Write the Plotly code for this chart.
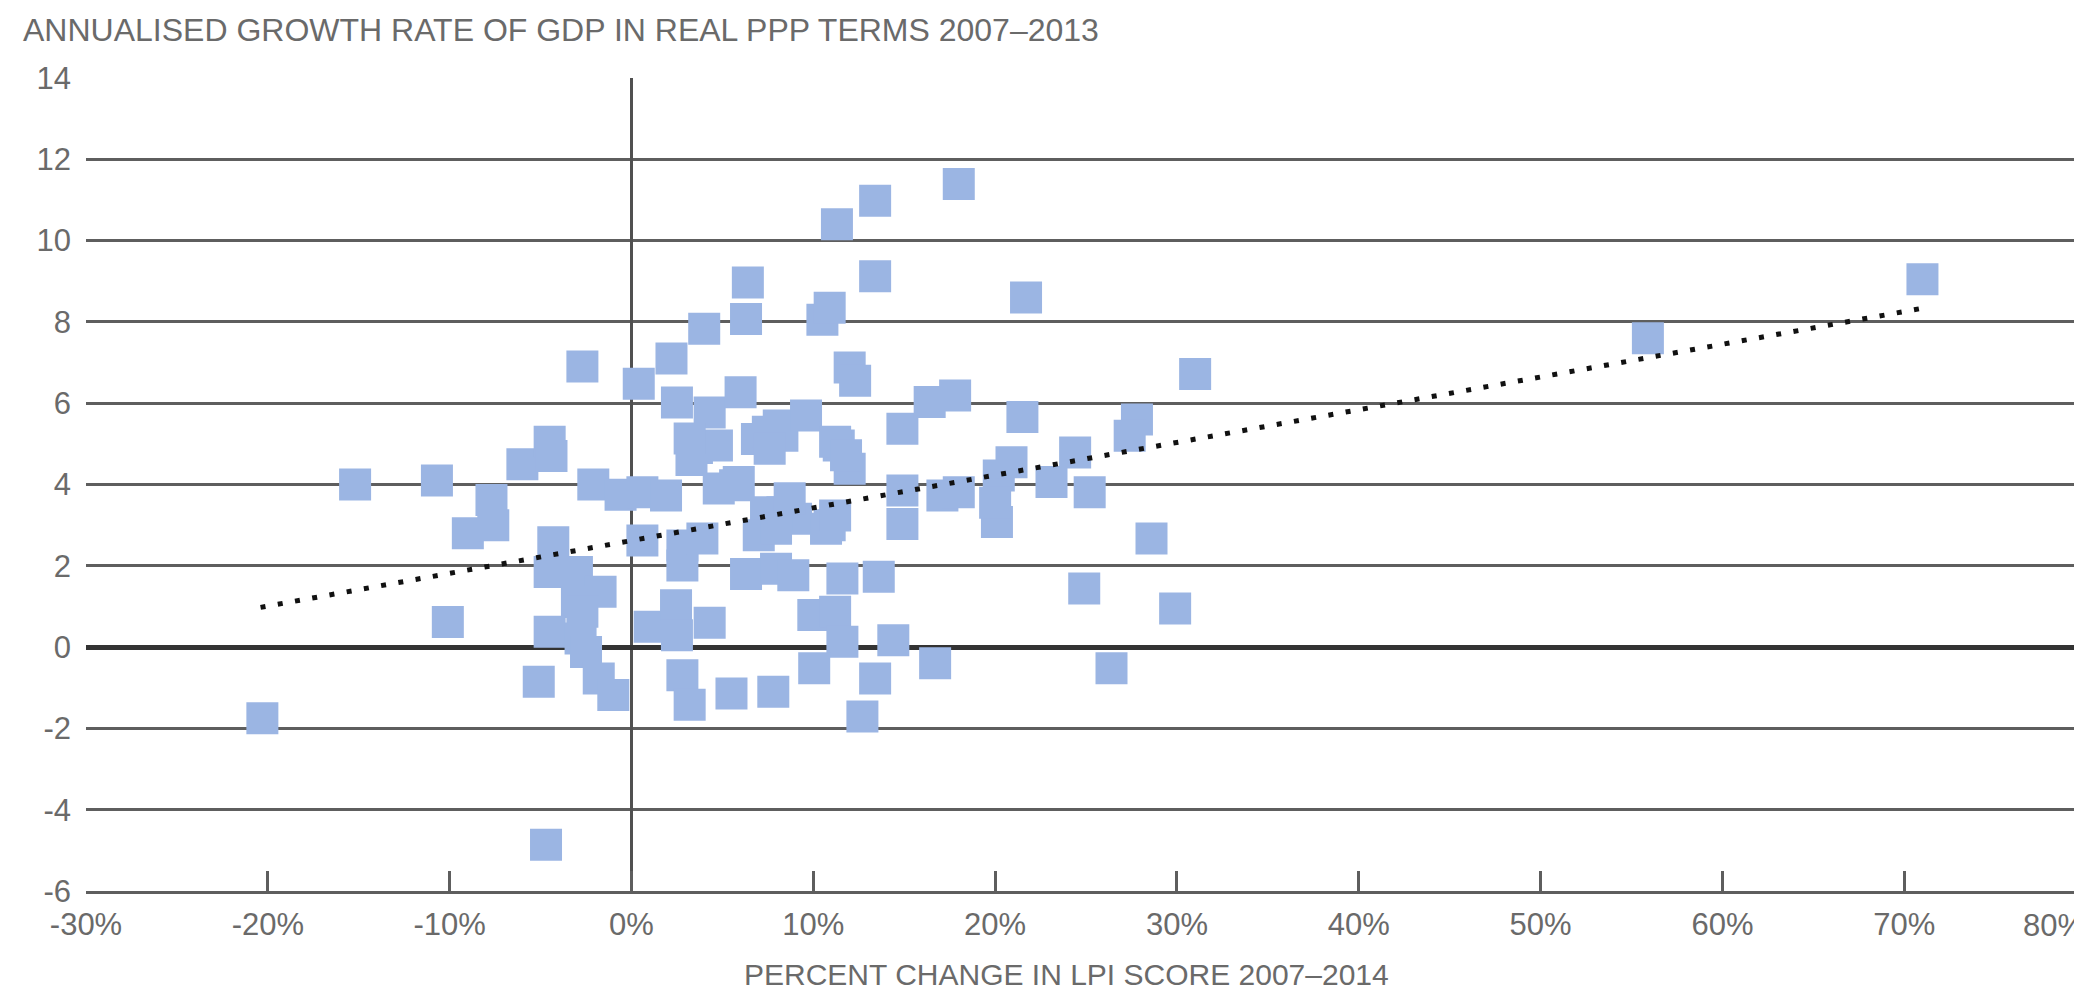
import plotly.graph_objects as go

# ---- data ----
lpi_change_pct = [
    -20.3, -15.2, -10.7, -10.1, -9.0, -7.6, -7.7, -6.0, -4.5, -4.4,
    -4.7, -5.1, -2.7, -2.1, 0.4, 2.2, 4.0, 6.4, 6.3, 11.3,
    13.4, 18.0, 13.4, 10.5, 10.9, 21.7, 12.0, 12.3, 31.0, 55.9,
    71.0, 27.8, 27.4, 28.6, 24.9, 29.9, 26.4, 12.7,
    -4.3, -4.5, -3.0, -1.7, -3.0, -4.5, -2.7, -2.8, -2.5, -1.8, -1.0, -0.6,
    0.6, 1.9, 3.3, 3.6, 4.7, 5.7, 6.9, 4.8, 2.5, 4.3,
    3.2, 6.0, 7.5, 8.3, 8.1, 9.6, 7.6, 8.3, 7.4, 9.05,
    10.9, 7.0, 7.95, 10.7, 11.2, 8.7, 11.4, 12.0, 11.2, 11.8,
    0.6, 2.8, 2.8, 3.9, 6.3, 7.95, 8.9, 1.0, 2.45, 4.3,
    2.5, 10.0, 11.2, 11.6, 11.6, 13.6, 14.4, 16.7, 10.05, 13.4,
    2.8, 3.2, 5.5, 7.8,
    14.9, 16.4, 17.8, 14.9, 14.9, 17.1, 18.0, 20.2, 20.1, 20.0,
    21.5, 20.9, 23.1, 25.2, 24.4, 5.9,
]
gdp_growth = [
    -1.75, 4.0, 4.1, 0.62, 2.8, 3.0, 3.62, 4.5, 5.05, 4.7,
    -4.86, -0.85, 6.9, 4.0, 6.48, 7.1, 7.83, 8.97, 8.07, 10.4,
    10.98, 11.39, 9.12, 8.05, 8.35, 8.6, 6.88, 6.55, 6.72, 7.6,
    9.05, 5.6, 5.2, 2.67, 1.44, 0.95, -0.52, -1.71,
    2.58, 1.85, 1.85, 1.36, 1.11, 0.38, 0.87, 0.21, -0.12, -0.77, -1.18, 3.75,
    3.81, 3.73, 4.6, 4.9, 4.96, 3.98, 5.12, 3.9, 6.02, 5.77,
    5.13, 6.27, 5.3, 5.2, 5.45, 5.7, 4.88, 3.32, 3.32, 3.16,
    3.0, 2.75, 2.91, 2.91, 3.24, 3.66, 4.96, 4.39, 5.05, 4.72,
    2.62, 2.01, 2.5, 2.67, 1.8, 1.93, 1.77, 0.5, 1.03, 0.6,
    0.29, 0.79, 0.87, 0.13, 1.69, 1.73, 0.17, -0.4, -0.52, -0.77,
    -0.69, -1.42, -1.14, -1.1,
    5.37, 6.03, 6.19, 3.85, 3.03, 3.73, 3.81, 4.22, 3.08, 3.55,
    5.66, 4.55, 4.06, 3.81, 4.79, 4.06,
]

# linear trend line
trend_x_range = [-20.4, 71.0]
trend_intercept = 2.62
trend_slope = 0.0805

x_tick_vals = [-30, -20, -10, 0, 10, 20, 30, 40, 50, 60, 70, 80]
x_tick_text = ["-30%", "-20%", "-10%", "0%", "10%", "20%", "30%", "40%",
               "50%", "60%", "70%", "80%"]
y_tick_vals = [-6, -4, -2, 0, 2, 4, 6, 8, 10, 12, 14]
y_tick_text = ["-6", "-4", "-2", "0", "2", "4", "6", "8", "10", "12", "14"]

title_text = "ANNUALISED GROWTH RATE OF GDP IN REAL PPP TERMS 2007–2013"
x_title_text = "PERCENT CHANGE IN LPI SCORE 2007–2014"

# ---- figure ----
FONT = "Liberation Sans, Arial, sans-serif"
TEXT_COL = "#6a6a6a"
GRID_COL = "#5e5e5e"
TICK_SIZE = 31

TOP, BOTTOM = 70, 883

trend_y = [trend_intercept + trend_slope * v for v in trend_x_range]

# the last x label sits at the page edge: it is drawn right-aligned to fit
shown_x_text = x_tick_text[:-1] + [""]

fig = go.Figure()
fig.add_trace(go.Scatter(
    x=lpi_change_pct, y=gdp_growth, mode="markers",
    marker=dict(symbol="square", size=32, color="#9bb5e3",
                line=dict(width=0)),
    showlegend=False, hoverinfo="x+y",
))
fig.add_trace(go.Scatter(
    x=trend_x_range, y=trend_y, mode="lines",
    line=dict(color="#111111", width=5, dash="5px,12.5px"),
    showlegend=False, hoverinfo="skip",
))

plot_h = BOTTOM - TOP
fig.update_layout(
    width=2082, height=992,
    margin=dict(l=78, r=3, t=TOP, b=992 - BOTTOM, autoexpand=False),
    paper_bgcolor="white", plot_bgcolor="white",
    font=dict(family=FONT, color=TEXT_COL, size=TICK_SIZE),
    title=dict(text=title_text, xref="container", yref="container",
               x=15 / 2082, xanchor="left", y=1 - 22 / 992, yanchor="middle",
               font=dict(family=FONT, size=32, color=TEXT_COL)),
    annotations=[
        dict(text=x_title_text, xref="paper", yref="paper",
             x=0.49, y=-(966 - BOTTOM) / plot_h,
             xanchor="center", yanchor="middle", showarrow=False,
             font=dict(family=FONT, size=30, color=TEXT_COL)),
        dict(text=x_tick_text[-1], xref="paper", yref="paper",
             x=1.0, y=-(917 - BOTTOM) / plot_h,
             xanchor="right", yanchor="middle", showarrow=False,
             font=dict(family=FONT, size=TICK_SIZE, color=TEXT_COL)),
    ],
)
fig.update_xaxes(
    range=[-30, 80.05], tickvals=x_tick_vals, ticktext=shown_x_text,
    automargin=False,
    showgrid=False, zeroline=True, zerolinecolor="#505050", zerolinewidth=3,
    showline=True, linecolor=GRID_COL, linewidth=2.5,
    ticks="inside", ticklen=20, tickwidth=2.5, tickcolor=GRID_COL,
    tickfont=dict(family=FONT, size=TICK_SIZE, color=TEXT_COL),
    ticklabelstandoff=4,
)
fig.update_yaxes(
    range=[-6, 14], tickvals=y_tick_vals, ticktext=y_tick_text,
    automargin=False,
    showgrid=True, gridcolor=GRID_COL, gridwidth=3,
    zeroline=True, zerolinecolor="#333333", zerolinewidth=4.5,
    showline=False, ticks="",
    tickfont=dict(family=FONT, size=TICK_SIZE, color=TEXT_COL),
    ticklabelstandoff=14,
)

fig.write_html("out.html")
